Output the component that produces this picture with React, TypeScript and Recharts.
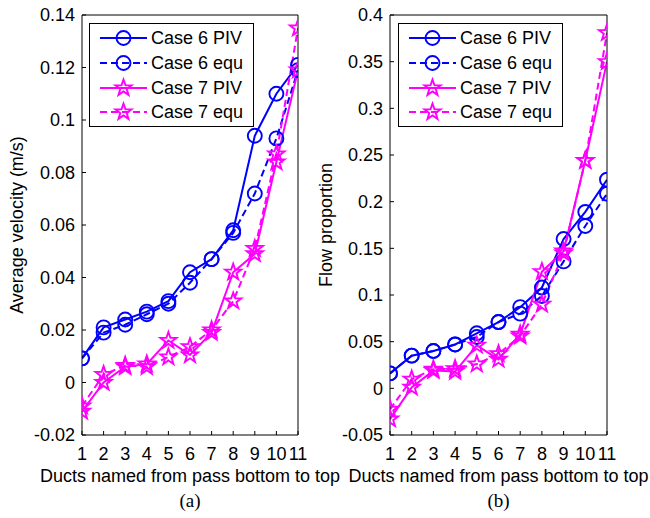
import React from 'react';
import { LineChart, Line, XAxis, YAxis, Legend, Label } from 'recharts';

// duct index along the pass, bottom to top
const ducts = [1, 2, 3, 4, 5, 6, 7, 8, 9, 10, 11];

// (a) average velocity (m/s)
const velocityCase6Piv = [0.0092, 0.021, 0.024, 0.027, 0.031, 0.042, 0.047, 0.058, 0.094, 0.11, 0.121];
const velocityCase6Equ = [0.0092, 0.019, 0.022, 0.026, 0.03, 0.038, 0.047, 0.057, 0.072, 0.093, 0.119];
const velocityCase7Piv = [-0.011, 0.0, 0.006, 0.007, 0.016, 0.0105, 0.019, 0.042, 0.049, 0.084, 0.119];
const velocityCase7Equ = [-0.009, 0.003, 0.0065, 0.006, 0.0097, 0.0136, 0.02, 0.031, 0.051, 0.087, 0.135];

// (b) flow proportion
const flowCase6Piv = [0.016, 0.035, 0.04, 0.047, 0.059, 0.071, 0.087, 0.108, 0.16, 0.189, 0.2235];
const flowCase6Equ = [0.016, 0.035, 0.04, 0.047, 0.055, 0.071, 0.08, 0.099, 0.136, 0.174, 0.2085];
const flowCase7Piv = [-0.033, 0.001, 0.019, 0.018, 0.046, 0.031, 0.058, 0.125, 0.147, 0.244, 0.35];
const flowCase7Equ = [-0.0225, 0.0098, 0.0205, 0.021, 0.026, 0.037, 0.056, 0.09, 0.145, 0.244, 0.381];

const velocityTicks = [-0.02, 0, 0.02, 0.04, 0.06, 0.08, 0.1, 0.12, 0.14];
const flowTicks = [-0.05, 0, 0.05, 0.1, 0.15, 0.2, 0.25, 0.3, 0.35, 0.4];

const BLUE = '#0000ff';
const MAGENTA = '#ff00ff';
const FONT = '"Liberation Sans", Arial, Helvetica, sans-serif';
const SERIF = '"Liberation Serif", "Times New Roman", serif';

type Marker = 'circle' | 'star';

const series: { key: string; name: string; color: string; dashed: boolean; marker: Marker }[] = [
  { key: 'c6piv', name: 'Case 6 PIV', color: BLUE, dashed: false, marker: 'circle' },
  { key: 'c6equ', name: 'Case 6 equ', color: BLUE, dashed: true, marker: 'circle' },
  { key: 'c7piv', name: 'Case 7 PIV', color: MAGENTA, dashed: false, marker: 'star' },
  { key: 'c7equ', name: 'Case 7 equ', color: MAGENTA, dashed: true, marker: 'star' },
];

const velocityData = ducts.map((d, i) => ({
  duct: d,
  c6piv: velocityCase6Piv[i],
  c6equ: velocityCase6Equ[i],
  c7piv: velocityCase7Piv[i],
  c7equ: velocityCase7Equ[i],
}));

const flowData = ducts.map((d, i) => ({
  duct: d,
  c6piv: flowCase6Piv[i],
  c6equ: flowCase6Equ[i],
  c7piv: flowCase7Piv[i],
  c7equ: flowCase7Equ[i],
}));

const DASH = '7 4';
const LINE_W = 2;

function starPoints(cx: number, cy: number, R: number, r: number) {
  const pts: string[] = [];
  for (let k = 0; k < 10; k++) {
    const rad = k % 2 === 0 ? R : r;
    const a = -Math.PI / 2 + (k * Math.PI) / 5;
    pts.push(`${(cx + rad * Math.cos(a)).toFixed(2)},${(cy + rad * Math.sin(a)).toFixed(2)}`);
  }
  return pts.join(' ');
}

const MarkerShape = ({ cx, cy, color, marker }: { cx: number; cy: number; color: string; marker: Marker }) =>
  marker === 'circle' ? (
    <circle cx={cx} cy={cy} r={7} fill="none" stroke={color} strokeWidth={1.9} />
  ) : (
    <polygon points={starPoints(cx, cy, 8.5, 3.4)} fill="none" stroke={color} strokeWidth={1.9} strokeLinejoin="miter" />
  );

const makeDot = (color: string, marker: Marker) => (props: any) => {
  const { cx, cy, index } = props;
  if (cx == null || cy == null) return <g key={index} />;
  return <MarkerShape key={index} cx={cx} cy={cy} color={color} marker={marker} />;
};

const LegendBox = () => (
  <div
    style={{
      border: '1px solid #000',
      background: '#fff',
      boxSizing: 'border-box',
      width: 165,
      height: 104,
      padding: '2px 0',
      fontFamily: FONT,
      fontSize: 18,
      color: '#000',
    }}
  >
    {series.map((s) => (
      <div key={s.key} style={{ display: 'flex', alignItems: 'center', height: 24.7 }}>
        <svg width={61} height={22} style={{ flex: 'none' }}>
          <line x1={10} x2={57} y1={11} y2={11} stroke={s.color} strokeWidth={LINE_W} strokeDasharray={s.dashed ? DASH : undefined} />
          <MarkerShape cx={33.5} cy={11} color={s.color} marker={s.marker} />
        </svg>
        <span style={{ whiteSpace: 'nowrap', lineHeight: '22px' }}>{s.name}</span>
      </div>
    ))}
  </div>
);

const fmt = (v: number) => String(Number(v.toFixed(3)));

interface PanelProps {
  data: any[];
  width: number;
  yWidth: number;
  marginRight: number;
  yDomain: [number, number];
  yTicks: number[];
  yLabel: string;
  yLabelOffset: number;
  tag: string;
  legendLeft: number;
}

const Panel: React.FC<PanelProps> = ({ data, width, yWidth, marginRight, yDomain, yTicks, yLabel, yLabelOffset, tag, legendLeft }) => {
  const tickStyle = { fill: '#000', fontSize: 18, fontFamily: FONT };
  return (
    <LineChart width={width} height={518} data={data} margin={{ top: 14, right: marginRight, left: 0, bottom: 0 }}>
      <XAxis
        dataKey="duct"
        type="number"
        domain={[1, 11]}
        allowDataOverflow
        ticks={ducts}
        interval={0}
        height={83}
        stroke="#000"
        tickSize={-4}
        tickMargin={16}
        tick={tickStyle}
      >
        <Label value="Ducts named from pass bottom to top" position="insideBottom" offset={36} style={{ fill: '#000', fontSize: 18, fontFamily: FONT }} />
        <Label value={tag} position="insideBottom" offset={11} style={{ fill: '#000', fontSize: 19, fontFamily: SERIF }} />
      </XAxis>
      <XAxis
        xAxisId="top"
        orientation="top"
        type="number"
        dataKey="duct"
        domain={[1, 11]}
        allowDataOverflow
        ticks={ducts}
        interval={0}
        height={1}
        stroke="#000"
        tickSize={-4}
        tick={false}
      />
      <YAxis
        type="number"
        domain={yDomain}
        allowDataOverflow
        ticks={yTicks}
        interval={0}
        width={yWidth}
        stroke="#000"
        tickSize={-4}
        tickMargin={11}
        tick={tickStyle}
        tickFormatter={fmt}
      >
        <Label value={yLabel} angle={-90} position="insideLeft" offset={yLabelOffset} style={{ textAnchor: 'middle', fill: '#000', fontSize: 18, fontFamily: FONT }} />
      </YAxis>
      <YAxis
        yAxisId="right"
        orientation="right"
        type="number"
        domain={yDomain}
        allowDataOverflow
        ticks={yTicks}
        interval={0}
        width={1}
        stroke="#000"
        tickSize={-4}
        tick={false}
      />
      <Legend
        layout="vertical"
        align="center"
        verticalAlign="middle"
        content={() => <LegendBox />}
        wrapperStyle={{ left: legendLeft, top: 23, width: 165, height: 104 }}
      />
      {series.map((s) => (
        <Line
          key={s.key}
          dataKey={s.key}
          name={s.name}
          type="linear"
          stroke={s.color}
          strokeWidth={LINE_W}
          strokeDasharray={s.dashed ? DASH : undefined}
          dot={makeDot(s.color, s.marker)}
          activeDot={false}
          isAnimationActive={false}
        />
      ))}
    </LineChart>
  );
};

export default function App() {
  return (
    <div style={{ position: 'absolute', left: 0, top: 0, width: 650, height: 518, background: '#fff' }}>
      <div style={{ position: 'absolute', left: 0, top: 0 }}>
        <Panel
          data={velocityData}
          width={340}
          yWidth={82}
          marginRight={41}
          yDomain={[-0.02, 0.14]}
          yTicks={velocityTicks}
          yLabel="Average velocity (m/s)"
          yLabelOffset={17}
          tag="(a)"
          legendLeft={89}
        />
      </div>
      <div style={{ position: 'absolute', left: 310, top: 0 }}>
        <Panel
          data={flowData}
          width={340}
          yWidth={80}
          marginRight={42}
          yDomain={[-0.05, 0.4]}
          yTicks={flowTicks}
          yLabel="Flow proportion"
          yLabelOffset={16}
          tag="(b)"
          legendLeft={88}
        />
      </div>
    </div>
  );
}
